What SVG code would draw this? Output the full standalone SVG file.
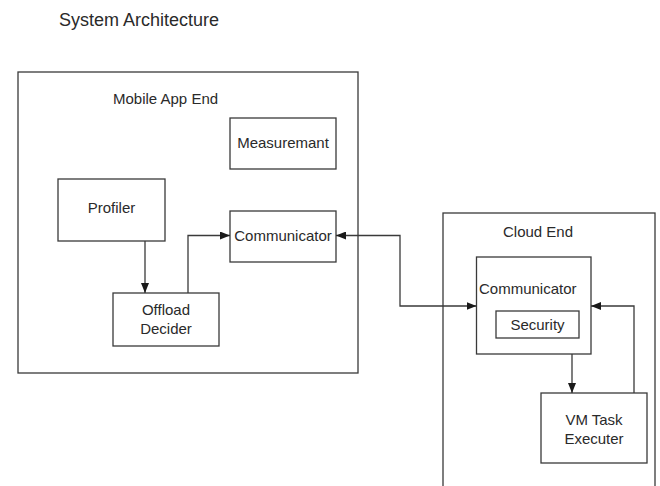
<svg xmlns="http://www.w3.org/2000/svg" width="660" height="486" viewBox="0 0 660 486">
<style>
.box{fill:none;stroke:#3a3a3a;stroke-width:1.3}
.t{font-family:"Liberation Sans",Arial,sans-serif;font-size:15px;fill:#2a2a2a}
.c{text-anchor:middle}
.con{fill:none;stroke:#3a3a3a;stroke-width:1.3}
</style>
<defs>
<marker id="ah" viewBox="0 0 10 8" refX="10" refY="4" markerWidth="10" markerHeight="8" markerUnits="userSpaceOnUse" orient="auto-start-reverse">
<path d="M0,0 L10,4 L0,8 Z" fill="#1a1a1a"/>
</marker>
</defs>
<rect width="660" height="486" fill="#fff"/>
<text class="t" x="59" y="26" style="font-size:18px">System Architecture</text>
<g id="mobile">
<rect class="box" x="18" y="72" width="340" height="301"/>
<text class="t" x="113" y="104">Mobile App End</text>
</g>
<g id="measuremant">
<rect class="box" x="230" y="118" width="106" height="51"/>
<text class="t c" x="283" y="148">Measuremant</text>
</g>
<g id="profiler">
<rect class="box" x="58" y="179" width="107" height="62"/>
<text class="t c" x="111.5" y="213">Profiler</text>
</g>
<g id="communicator-mobile">
<rect class="box" x="230" y="211" width="106" height="51"/>
<text class="t c" x="283" y="241">Communicator</text>
</g>
<g id="offload">
<rect class="box" x="113" y="293" width="106" height="53"/>
<text class="t c" x="166" y="315">Offload</text>
<text class="t c" x="166" y="334">Decider</text>
</g>
<g id="cloud">
<rect class="box" x="443" y="213" width="212" height="290"/>
<text class="t" x="503" y="237">Cloud End</text>
</g>
<g id="communicator-cloud">
<rect class="box" x="476.5" y="257" width="114.5" height="97"/>
<text class="t" x="479" y="294">Communicator</text>
</g>
<g id="security">
<rect class="box" x="496" y="311" width="83" height="27"/>
<text class="t c" x="537.5" y="330">Security</text>
</g>
<g id="vm">
<rect class="box" x="541" y="393" width="106" height="70"/>
<text class="t c" x="594" y="425">VM Task</text>
<text class="t c" x="594" y="444">Executer</text>
</g>
<g id="connectors">
<path class="con" d="M145,241 V293" marker-end="url(#ah)"/>
<path class="con" d="M188,293 V235.5 H230" marker-end="url(#ah)"/>
<path class="con" d="M336,235.5 H400 V306 H476.5" marker-start="url(#ah)" marker-end="url(#ah)"/>
<path class="con" d="M572,354 V393" marker-end="url(#ah)"/>
<path class="con" d="M634,393 V306 H591" marker-end="url(#ah)"/>
</g>
</svg>
